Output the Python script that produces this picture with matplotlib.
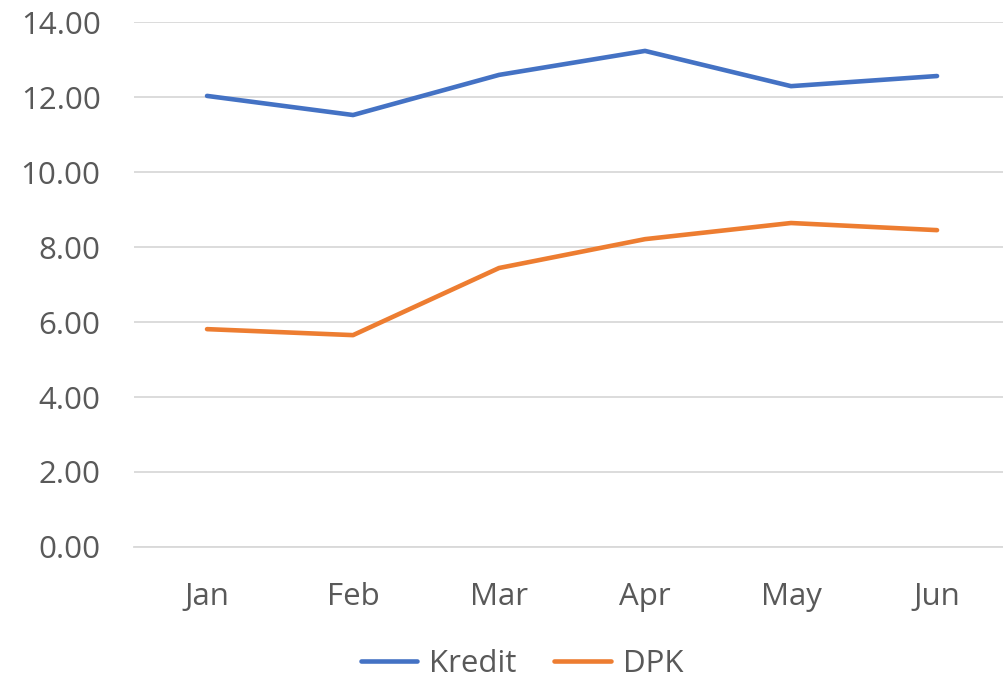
import matplotlib
matplotlib.use("Agg")
import matplotlib.pyplot as plt

months = ["Jan", "Feb", "Mar", "Apr", "May", "Jun"]
kredit = [12.03, 11.52, 12.59, 13.23, 12.29, 12.56]
dpk = [5.81, 5.65, 7.44, 8.21, 8.64, 8.45]
yticks = [0, 2, 4, 6, 8, 10, 12, 14]

plt.rcParams['font.family'] = ['Open Sans', 'DejaVu Sans']
text_color = '#595959'
grid_color = '#D9D9D9'

fig = plt.figure(figsize=(10.04, 6.8), dpi=100)
ax = fig.add_axes([0.1335, 0.1956, 0.8725, 0.772])

x = list(range(len(months)))
ax.plot(x, kredit, color='#4472C4', lw=3.3, label='Kredit', solid_joinstyle='round', solid_capstyle='round')
ax.plot(x, dpk, color='#ED7D31', lw=3.3, label='DPK', solid_joinstyle='round', solid_capstyle='round')

ax.set_xlim(-0.5, len(months) - 0.5)
ax.set_ylim(0, 14)
ax.set_yticks(yticks)
ax.set_yticklabels([f"{v:.2f}" for v in yticks])
ax.set_xticks(x)
ax.set_xticklabels(months)

ax.grid(axis='y', color=grid_color, lw=1.3)
ax.set_axisbelow(True)
for s in ['top', 'right', 'left']:
    ax.spines[s].set_visible(False)
ax.spines['bottom'].set_color(grid_color)
ax.spines['bottom'].set_linewidth(1.3)
ax.tick_params(axis='both', length=0, labelsize=22.5, colors=text_color)
ax.tick_params(axis='y', pad=24)
ax.tick_params(axis='x', pad=25)

leg = fig.legend(loc='center', bbox_to_anchor=(0.52, 0.024), ncol=2, frameon=False,
                 fontsize=22.5, handlelength=1.8, columnspacing=1.2, handletextpad=0.4)
for t in leg.get_texts():
    t.set_color(text_color)

fig.savefig('out.png', dpi=100)
